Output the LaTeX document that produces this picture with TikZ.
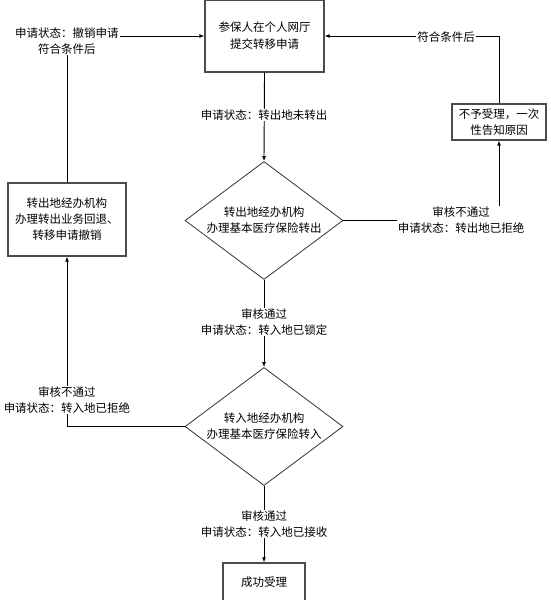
\documentclass[tikz,border=0pt]{standalone}
\usepackage{fontspec}
\setmainfont{Noto Sans CJK SC}
\usetikzlibrary{arrows.meta,shapes.geometric}
\begin{document}
\begin{tikzpicture}[x=1pt,y=-1pt,
  font=\fontsize{11.5}{16}\selectfont,
  box/.style={draw=black!70, line width=1.3pt, fill=white, align=center, inner sep=0pt},
  dia/.style={draw=black!80, line width=0.8pt, shape=diamond, aspect=1.35, minimum width=158pt, minimum height=118pt, inner sep=0pt},
  lab/.style={fill=white, align=center, inner sep=1pt},
  arr/.style={draw=black, line width=0.9pt, -{Latex[length=5pt,width=4pt]}},
  conn/.style={draw=black, line width=0.9pt}]
\useasboundingbox (0,0) rectangle (550,600);
\fill[white] (0,0) rectangle (550,600);

\node[box, minimum width=119pt, minimum height=72pt, font=\fontsize{11.5}{17}\selectfont] (top) at (264.5,36) {参保人在个人网厅\\提交转移申请};
\node[box, minimum width=94pt, minimum height=36pt] (rbox) at (499,122) {不予受理，一次\\性告知原因};
\node[box, minimum width=118pt, minimum height=73pt] (lbox) at (67,219.5) {转出地经办机构\\办理转出业务回退、\\转移申请撤销};
\node[box, minimum width=82pt, minimum height=38pt] (bot) at (264,582) {成功受理};

\node[dia] (d1) at (264,220.5) {};
\node[align=center] (t1) at (d1.center) {转出地经办机构\\办理基本医疗保险转出};
\node[dia] (d2) at (264,426.5) {};
\node[align=center] (t2) at (d2.center) {转入地经办机构\\办理基本医疗保险转入};

\draw[arr] (top.south) -- (d1.north);
\draw[arr] (d1.east) -| (rbox.south);
\draw[arr] (rbox.north) |- (top.east);
\draw[arr] (lbox.north) |- (top.west);
\draw[arr] (d1.south) -- (d2.north);
\draw[arr] (d2.west) -| (lbox.south);
\draw[arr] (d2.south) -- (bot.north);

\node[lab] (l1) at (264,115) {申请状态：转出地未转出};
\node[lab] (l2) at (461,220) {审核不通过\\申请状态：转出地已拒绝};
\node[lab] (l3) at (446,37) {符合条件后};
\node[lab] (l4) at (67,41) {申请状态：撤销申请\\符合条件后};
\node[lab] (l5) at (264,322) {审核通过\\申请状态：转入地已锁定};
\node[lab] (l6) at (67,400) {审核不通过\\申请状态：转入地已拒绝};
\node[lab] (l7) at (264,524) {审核通过\\申请状态：转入地已接收};
\end{tikzpicture}
\end{document}
